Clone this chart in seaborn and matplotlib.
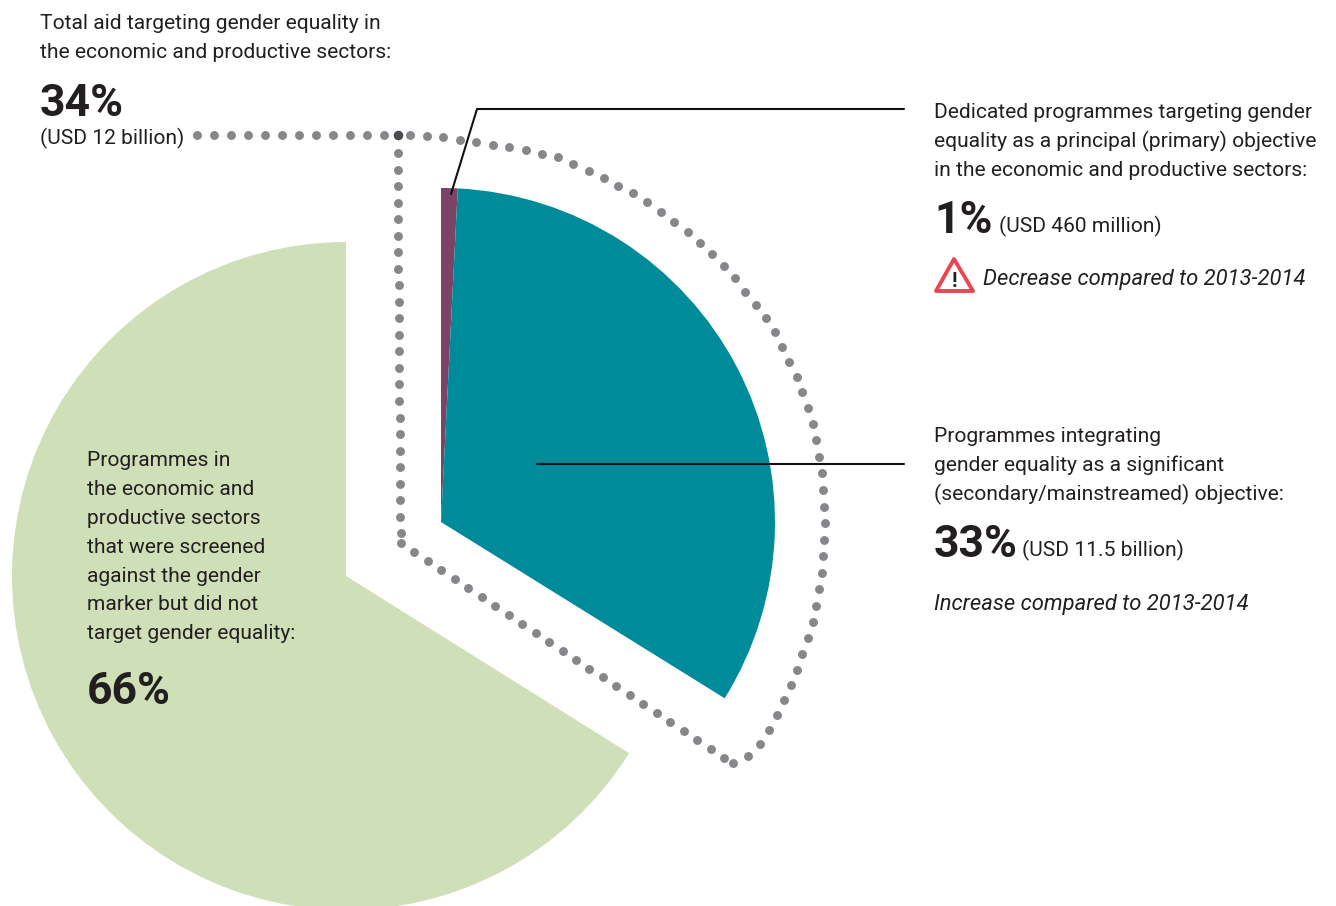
import numpy as np
import pandas as pd
import matplotlib
matplotlib.use("Agg")
import matplotlib.pyplot as plt
from matplotlib.patches import Polygon
import seaborn as sns

# shares of aid in the economic and productive sectors, %
not_targeted = [66.1]
targeted_labels = ["Dedicated", "Significant"]
targeted_shares = [0.8, 33.05]

green = "#CFDFB7"
teal = "#008B9B"
purple = "#7B4465"
dot_color = "#87878B"
text_color = "#231F20"
alert_red = "#EF4454"

H = 906

sns.set_theme(style="white")
plt.rcParams["font.family"] = ["Roboto", "Liberation Sans", "DejaVu Sans"]
plt.rcParams["text.color"] = text_color

fig = plt.figure(figsize=(13.36, 9.06), dpi=100)
ax = fig.add_axes([0, 0, 1, 1])


def y(py):
    # picture rows run downward, the axes upward
    return H - py


# Pies
ax.pie([s / 100 for s in not_targeted], colors=[green], startangle=90, normalize=False,
       center=(346, y(576)), radius=334, wedgeprops={"linewidth": 0})
ax.pie([s / 100 for s in targeted_shares], colors=[purple, teal], startangle=90, counterclock=False,
       normalize=False, center=(441, y(522)), radius=334, wedgeprops={"linewidth": 0})
ax.set_xlim(0, 1336)
ax.set_ylim(0, H)
ax.set_aspect("auto")
ax.axis("off")

# Dotted outline, the curved part walks along a guide path
guide = np.array([(410, 134.5), (443, 137), (509, 147), (557.7, 156.7), (598, 175), (640.7, 197.3),
                  (691.7, 234.7), (727.5, 269), (770.7, 323.7), (797, 377), (812.3, 421.3),
                  (820.7, 463), (825.3, 519), (822, 575), (812.7, 622.7), (792.3, 683.7),
                  (771, 727), (763, 740), (749, 755), (733, 763)])
seg = np.hypot(*np.diff(guide, axis=0).T)
dist = np.r_[0, np.cumsum(seg)]
walk = np.arange(0, dist[-1] + 1, dist[-1] / round(dist[-1] / 16.6))
arc_x = np.interp(walk, dist, guide[:, 0])
arc_y = np.interp(walk, dist, guide[:, 1])

stem_x = np.arange(197.3, 390, 16.96)
down_y = np.linspace(153, 533.3, 24)
down_x = 397.5 + (down_y - 153) * 3 / 380
diag_x = np.linspace(401, 724, 25)
diag_y = np.linspace(543.3, 758, 25)

dots = pd.DataFrame({
    "x": np.r_[stem_x, down_x, diag_x, arc_x],
    "y": H - np.r_[np.full(len(stem_x), 135), down_y, diag_y, arc_y],
})
sns.scatterplot(data=dots, x="x", y="y", s=41, color=dot_color, linewidth=0, ax=ax, zorder=3)
ax.scatter([397.5], [y(135)], s=48, color="#4A4A50", linewidth=0, zorder=4)

# Leader lines
lead1 = pd.DataFrame({"x": [451, 477, 904], "y": [y(194), y(109), y(109)]})
lead2 = pd.DataFrame({"x": [537, 904], "y": [y(464), y(464)]})
for lead in (lead1, lead2):
    sns.lineplot(data=lead, x="x", y="y", sort=False, estimator=None, color="#111111", lw=1.5, ax=ax, zorder=5)
ax.set_xlabel("")
ax.set_ylabel("")

body = 15.1
big = 32
note = 15.8


def label(px, py, s, size=body, **kw):
    ax.text(px, y(py), s, fontsize=size, ha="left", va="baseline", zorder=6, **kw)


for py, s in [(29, "Total aid targeting gender equality in"),
              (58, "the economic and productive sectors:")]:
    label(40, py, s)
label(40, 116, "34%", big, fontweight="bold")
label(40, 144, "(USD 12 billion)")

for py, s in [(118, "Dedicated programmes targeting gender"),
              (147, "equality as a principal (primary) objective"),
              (176, "in the economic and productive sectors:")]:
    label(934, py, s)
label(934, 233, "1%", big, fontweight="bold")
label(999, 232, "(USD 460 million)")
label(983, 285, "Decrease compared to 2013-2014", note, style="italic")

for py, s in [(442, "Programmes integrating"),
              (471, "gender equality as a significant"),
              (500, "(secondary/mainstreamed) objective:")]:
    label(934, py, s)
label(934, 557, "33%", big, fontweight="bold")
label(1022, 556, "(USD 11.5 billion)")
label(934, 610, "Increase compared to 2013-2014", note, style="italic")

for py, s in [(466, "Programmes in"), (495, "the economic and"), (524, "productive sectors"),
              (553, "that were screened"), (582, "against the gender"), (610, "marker but did not"),
              (639, "target gender equality:")]:
    label(87, py, s)
label(87, 704, "66%", big, fontweight="bold")

# Warning icon
tri = Polygon([(954, y(259)), (973, y(291)), (936, y(291))], closed=True, fill=False,
              edgecolor=alert_red, lw=2.8, joinstyle="round", zorder=6)
ax.add_patch(tri)
ax.text(954.5, y(287), "!", fontsize=15, fontweight="bold", ha="center", va="baseline", zorder=6)

fig.savefig("out.png", dpi=100)
